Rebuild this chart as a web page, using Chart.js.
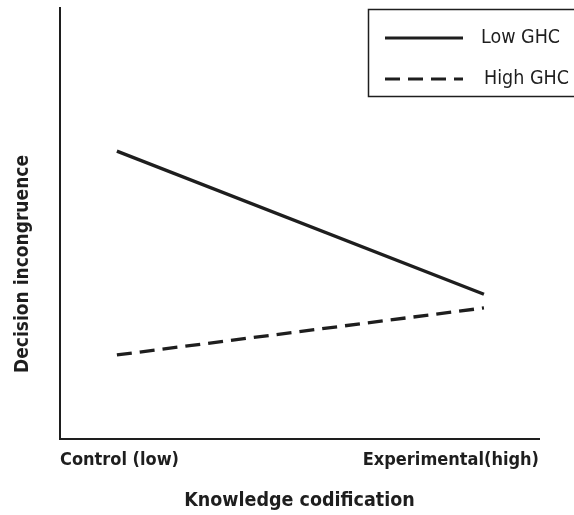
<!DOCTYPE html>
<html>
<head>
<meta charset="utf-8">
<script src="https://cdn.jsdelivr.net/npm/chart.js@4/dist/chart.umd.min.js"></script>
<style>
  html, body { margin: 0; padding: 0; background: #fff; }
  #wrap { width: 574px; height: 515px; }
</style>
</head>
<body>
<div id="wrap"><canvas id="lineCanvas" width="574" height="515"></canvas></div>
<script>
const categories = ["Control (low)", "Experimental(high)"];
const seriesNames = ["Low GHC", "High GHC"];
const lowGhc = [6.68, 3.36];
const highGhc = [1.95, 3.04];

const FONT = "'Liberation Sans Narrow', 'DejaVu Sans Condensed', 'Arial Narrow', sans-serif";
const INK = "#1e1e1e";

// legende dessinee a la main dans une boite en haut a droite
const legendBox = {
  id: "legendBox",
  afterDraw: (chart) => {
    const ctx = chart.ctx;
    ctx.save();
    ctx.strokeStyle = INK;
    ctx.lineWidth = 1.5;
    ctx.strokeRect(368.5, 9.5, 210, 87);
    chart.data.datasets.forEach((ds, i) => {
      const y = 38 + i * 41;
      ctx.beginPath();
      ctx.setLineDash(ds.borderDash || []);
      ctx.lineWidth = 3;
      ctx.moveTo(385, y);
      ctx.lineTo(463, y);
      ctx.stroke();
      ctx.setLineDash([]);
      ctx.fillStyle = INK;
      ctx.font = "19.5px " + FONT;
      ctx.textAlign = "left";
      ctx.textBaseline = "middle";
      ctx.fillText(ds.label, 481 + i * 3, y);
    });
    ctx.restore();
  },
};

const yTitle = {
  id: "yTitle",
  afterDraw: (chart) => {
    const ctx = chart.ctx;
    ctx.save();
    ctx.translate(23, 264);
    ctx.rotate(-Math.PI / 2);
    ctx.fillStyle = INK;
    ctx.font = "bold 19px " + FONT;
    ctx.textAlign = "center";
    ctx.textBaseline = "middle";
    ctx.fillText("Decision incongruence", 0, 0);
    ctx.restore();
  },
};

const initChart = () => {
  const canvas = document.getElementById("lineCanvas");
  const xMin = -0.155;
  const xMax = 1.15;

  return new Chart(canvas, {
    type: "line",
    data: {
      datasets: [
        {
          label: seriesNames[0],
          data: lowGhc.map((v, i) => ({ x: i, y: v })),
          borderColor: INK,
          borderWidth: 3.3,
          pointRadius: 0,
          fill: false,
        },
        {
          label: seriesNames[1],
          data: highGhc.map((v, i) => ({ x: i, y: v })),
          borderColor: INK,
          borderWidth: 3.3,
          borderDash: [15, 8],
          pointRadius: 0,
          fill: false,
        },
      ],
    },
    options: {
      responsive: false,
      animation: false,
      layout: { padding: { top: 8, right: 35, left: 0, bottom: 0 } },
      plugins: { legend: { display: false }, tooltip: { enabled: false } },
      scales: {
        x: {
          type: "linear",
          min: xMin,
          max: xMax,
          afterBuildTicks: (scale) => {
            scale.ticks = [{ value: xMin }, { value: xMax }];
          },
          afterFit: (scale) => {
            scale.height = 76;
          },
          grid: { display: false, drawTicks: false },
          border: { display: true, color: INK, width: 2 },
          ticks: {
            align: "inner",
            padding: 11,
            maxRotation: 0,
            color: INK,
            font: { family: FONT, size: 18, weight: "bold" },
            callback: (value) => (value === xMin ? categories[0] : categories[1]),
          },
          title: {
            display: true,
            text: "Knowledge codification",
            color: INK,
            padding: { top: 0, bottom: 2 },
            font: { family: FONT, size: 19.5, weight: "bold" },
          },
        },
        y: {
          min: 0,
          max: 10,
          afterFit: (scale) => {
            scale.width = 60;
          },
          grid: { display: false, drawTicks: false },
          border: { display: true, color: INK, width: 2 },
          ticks: { display: false },
        },
      },
    },
    plugins: [legendBox, yTitle],
  });
};

document.addEventListener("DOMContentLoaded", () => {
  initChart();
});
</script>
</body>
</html>
